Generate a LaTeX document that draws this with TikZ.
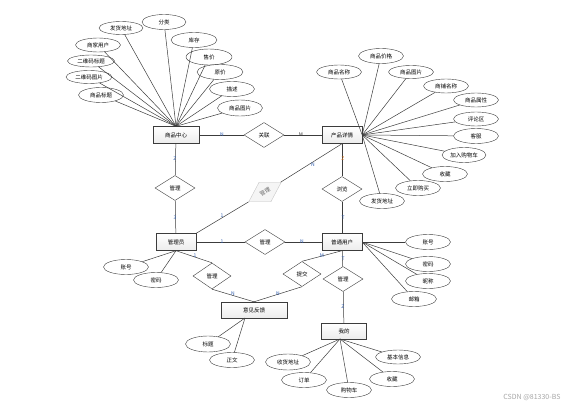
\documentclass[tikz,border=0pt]{standalone}
\usepackage{fontspec}
\newfontfamily\cjk{Noto Sans CJK SC}
\usetikzlibrary{shapes.geometric}
\definecolor{erline}{RGB}{60,60,60}
\definecolor{erblue}{RGB}{50,95,175}
\definecolor{erorange}{RGB}{225,120,30}
\tikzset{
  entity/.style={draw=erline, top color=white, bottom color=gray!15, minimum width=40pt, minimum height=17pt, inner sep=1pt, font=\cjk\fontsize{5.5}{6}\selectfont},
  attr/.style={ellipse, draw=erline, fill=white, minimum width=45pt, minimum height=15pt, inner sep=0pt, font=\cjk\fontsize{5.5}{6}\selectfont},
  rel/.style={diamond, draw=erline, fill=white, minimum width=40pt, minimum height=25pt, inner sep=0pt, font=\cjk\fontsize{5.5}{6}\selectfont},
  card/.style={font=\cjk\fontsize{5}{5}\selectfont, text=erblue, inner sep=0.5pt},
  link/.style={erline, line width=0.5pt}
}

\begin{document}
\begin{tikzpicture}[x=1pt, y=-1pt]
  \useasboundingbox (0,0) rectangle (567,409);

  % Entities
  \node[entity, minimum width=46pt] (spzx) at (176,135) {商品中心};
  \node[entity] (cpxq) at (342,135) {产品详情};
  \node[entity] (gly) at (176,242) {管理员};
  \node[entity] (ptyh) at (342,242) {普通用户};
  \node[entity, minimum width=66pt, minimum height=16pt] (yjfk) at (254,310) {意见反馈};
  \node[entity, minimum width=45pt, minimum height=16pt] (wode) at (344,331) {我的};

  % Relationships
  \node[rel] (guanlian) at (264,135) {关联};
  \node[rel] (glA) at (175,188) {管理};
  \node[rel] (liulan) at (342,189) {浏览};
  \node[rel] (glB) at (265,242) {管理};
  \node[rel, rotate=31, fill=gray!8, draw=gray!45, text=gray!80!black, minimum width=38pt, minimum height=23pt] (glC) at (265,192) {管理};
  \node[rel, minimum width=38pt, minimum height=26pt] (glD) at (212,276) {管理};
  \node[rel, minimum width=38pt] (tijiao) at (302,274) {提交};
  \node[rel] (glE) at (343,279) {管理};

  % Attributes of 商品中心
  \node[attr, minimum width=44pt, minimum height=13pt] (a1) at (121,28) {发货地址};
  \node[attr, minimum width=44pt] (a2) at (164,22) {分类};
  \node[attr, minimum height=14pt] (a3) at (98,45) {商家用户};
  \node[attr, minimum width=46pt] (a4) at (194,40) {库存};
  \node[attr, minimum width=47pt, minimum height=12pt] (a5) at (91,61) {二维码标题};
  \node[attr, minimum width=46pt, minimum height=16pt] (a6) at (209,57) {售价};
  \node[attr, minimum width=46pt, minimum height=13pt] (a7) at (89,77) {二维码图片};
  \node[attr, minimum width=46pt] (a8) at (220,72) {原价};
  \node[attr] (a9) at (101,95) {商品标题};
  \node[attr] (a10) at (232,89) {描述};
  \node[attr, minimum height=16pt] (a11) at (240,108) {商品图片};
  \foreach \a in {a1,a2,a3,a4,a5,a6,a7,a8,a9,a10,a11}
    \draw[link] (\a) -- (spzx.north);

  % Attributes of 产品详情
  \node[attr] (b1) at (381,56) {商品价格};
  \node[attr, minimum height=14pt] (b2) at (339,72) {商品名称};
  \node[attr, minimum height=13pt] (b3) at (411,72) {商品图片};
  \node[attr, minimum height=14pt] (b4) at (446,86) {商铺名称};
  \node[attr, minimum height=14pt] (b5) at (476,100) {商品属性};
  \node[attr, minimum height=14pt] (b6) at (476,119) {评论区};
  \node[attr] (b7) at (476,136) {客服};
  \node[attr, minimum width=44pt] (b8) at (464,155) {加入购物车};
  \node[attr] (b9) at (445,174) {收藏};
  \node[attr] (b10) at (418,188) {立即购买};
  \node[attr] (b11) at (382,201) {发货地址};
  \foreach \b in {b1,b2,b3,b4,b5,b6,b7,b8,b9,b10,b11}
    \draw[link] (\b) -- (cpxq.east);

  % Attributes of 管理员
  \node[attr] (c1) at (126,267) {账号};
  \node[attr] (c2) at (156,280) {密码};
  \draw[link] (c1) -- (gly.south);
  \draw[link] (c2) -- (gly.south);

  % Attributes of 普通用户
  \node[attr] (d1) at (428,242) {账号};
  \node[attr] (d2) at (428,264) {密码};
  \node[attr] (d3) at (428,281) {昵称};
  \node[attr] (d4) at (414,299) {邮箱};
  \foreach \d in {d1,d2,d3,d4}
    \draw[link] (\d) -- (ptyh.east);

  % Attributes of 意见反馈
  \coordinate (yjfkb) at (245,318);
  \node[attr, minimum height=16pt] (e1) at (208,344) {标题};
  \node[attr] (e2) at (232,360) {正文};
  \draw[link] (e1) -- (yjfkb);
  \draw[link] (e2) -- (yjfkb);

  % Attributes of 我的
  \coordinate (wodeb) at (340,339);
  \node[attr, minimum height=16pt] (f1) at (288,362) {收货地址};
  \node[attr, minimum height=14pt] (f2) at (398,357) {基本信息};
  \node[attr] (f3) at (304,380) {订单};
  \node[attr] (f4) at (392,379) {收藏};
  \node[attr] (f5) at (349,390) {购物车};
  \foreach \f in {f1,f2,f3,f4,f5}
    \draw[link] (\f) -- (wodeb);

  % Relationship lines
  \draw[link] (spzx) -- (guanlian) -- (cpxq);
  \draw[link] (spzx) -- (glA) -- (gly);
  \draw[link] (cpxq) -- (liulan) -- (ptyh);
  \draw[link] (gly) -- (glB) -- (ptyh);
  \draw[link] (gly.north east) -- (glC) -- (cpxq.south);
  \draw[link] (gly.south) -- (glD.north);
  \draw[link] (glD.south) -- (yjfk.north);
  \draw[link] (ptyh.south) -- (tijiao.north);
  \draw[link] (tijiao.south) -- (yjfk.north);
  \draw[link] (ptyh) -- (glE) -- (wode);

  % Cardinalities
  \node[card] at (222,135) {N};
  \node[card, text=erline] at (301,135) {M};
  \node[card] at (175,159) {Z};
  \node[card] at (175,218) {3};
  \node[card, text=erorange] at (343,159) {Z};
  \node[card] at (343,218) {T};
  \node[card] at (222,242) {1};
  \node[card] at (302,242) {N};
  \node[card] at (222,216) {1};
  \node[card] at (313,165) {N};
  \node[card] at (195,256) {1};
  \node[card] at (233,294) {N};
  \node[card] at (322,256) {M};
  \node[card] at (278,294) {N};
  \node[card] at (343,259) {T};
  \node[card] at (343,307) {Z};

  % Watermark
  \node[font=\cjk\fontsize{7}{8}\selectfont, text=gray!70, anchor=east] (wm) at (564,397) {CSDN @81330-BS};
\end{tikzpicture}
\end{document}
